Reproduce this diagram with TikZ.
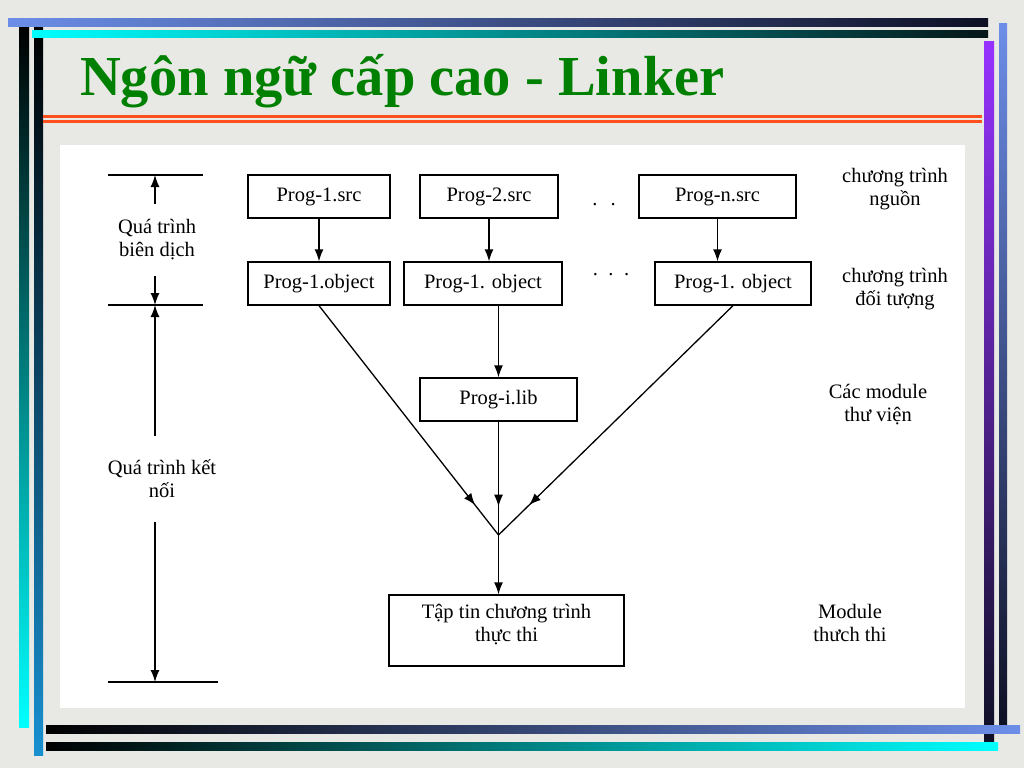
\documentclass[tikz,border=0pt]{standalone}
\usepackage{fontspec}
\setmainfont{Liberation Serif}
\usetikzlibrary{arrows.meta, decorations.markings}
\definecolor{slidebg}{RGB}{232,232,228}
\definecolor{titlegreen}{RGB}{0,128,0}
\definecolor{barblue}{RGB}{108,142,232}
\definecolor{barnavy}{RGB}{14,16,36}
\definecolor{barteal}{RGB}{6,22,24}
\definecolor{barsky}{RGB}{24,144,208}
\definecolor{barpurple}{RGB}{150,50,255}
\definecolor{rulered}{RGB}{255,80,30}

\begin{document}
\begin{tikzpicture}[x=1pt, y=-1pt,
    every node/.style={font=\fontsize{20.5}{23}\selectfont},
    box/.style={draw, line width=1.3pt, minimum height=43pt, inner sep=0pt},
    note/.style={align=center, inner sep=0pt},
    link/.style={line width=1.3pt},
    tip/.style={-{Latex[length=12pt,width=9pt]}},
    midarrow/.style={postaction={decorate},
      decoration={markings, mark=at position #1 with {\arrow{Latex[length=12pt,width=9pt]}}}},
  ]
  % slide and white panel
  \fill[slidebg] (0,0) rectangle (1024,768);
  \fill[white] (60,145) rectangle (965,708);

  % frame bars
  \shade[top color=black, bottom color=cyan] (19,27) rectangle (29,727);
  \shade[top color=black, bottom color=barsky] (34,28) rectangle (43,755);
  \shade[top color=barpurple, bottom color=barnavy] (984,42) rectangle (994,742);
  \shade[top color=barblue, bottom color=barnavy] (999,24) rectangle (1007,725);
  \shade[left color=barblue, right color=barnavy] (8,19) rectangle (988,27);
  \shade[left color=cyan, right color=barteal] (32,31) rectangle (988,38);
  \shade[left color=black, right color=barblue] (46,725) rectangle (1020,733);
  \shade[left color=black, right color=cyan] (46,742) rectangle (998,750);

  % title
  \node[anchor=base west, inner sep=0pt, text=titlegreen,
        font=\fontsize{56.5}{60}\selectfont\bfseries] (title) at (80,95) {Ngôn ngữ cấp cao - Linker};
  \draw[rulered, line width=3pt] (43,116.5) -- (982,116.5);
  \draw[rulered, line width=3pt] (43,121.5) -- (982,121.5);

  % program files
  \node[box, minimum width=142pt] (s1) at (319,196.5) {Prog-1.src};
  \node[box, minimum width=138pt] (s2) at (489,196.5) {Prog-2.src};
  \node[box, minimum width=157pt] (sn) at (717.5,196.5) {Prog-n.src};
  \node[box, minimum width=142pt] (o1) at (319,283.5) {Prog-1.object};
  \node[box, minimum width=158pt] (o2) at (483,283.5) {Prog-1. object};
  \node[box, minimum width=156pt] (on) at (733,283.5) {Prog-1. object};
  \node[box, minimum width=157pt] (lib) at (498.5,399.5) {Prog-i.lib};
  \node[box, minimum width=235pt, minimum height=71pt, text depth=16pt, align=center] (exe) at (506.5,630.5) {Tập tin chương trình\\thực thi};
  \node (d1) at (604,205) {.\hspace{13pt}.};
  \node (d2) at (611,275) {.\hspace{10.5pt}.\hspace{10.5pt}.};

  % right labels
  \node[note] (srclbl) at (895,189) {chương trình\\nguồn};
  \node[note] (objlbl) at (895,289) {chương trình\\đối tượng};
  \node[note] (liblbl) at (878,405) {Các module\\thư viện};
  \node[note] (exelbl) at (850,623) {Module\\thưch thi};

  % left scale
  \coordinate (lv1) at (155,175);
  \coordinate (lv2) at (155,305);
  \coordinate (lv3) at (155,682);
  \draw[link] (108,175) -- (203,175);
  \draw[link] (108,305) -- (203,305);
  \draw[link] (108,682) -- (218,682);
  \node[note, minimum height=72pt] (bd) at (157,240) {Quá trình\\biên dịch};
  \node[note, minimum height=86pt] (kn) at (162,479) {Quá trình kết\\nối};
  \draw[link, tip] (bd.north -| lv1) -- (lv1);
  \draw[link, tip] (bd.south -| lv1) -- (lv2);
  \draw[link, tip] (kn.north -| lv1) -- (lv2);
  \draw[link, tip] (kn.south -| lv1) -- (lv3);

  % connectors
  \draw[link, tip] (s1.south) -- (s1.south |- o1.north);
  \draw[link, tip] (s2.south) -- (s2.south |- o2.north);
  \draw[link, tip] (sn.south) -- (sn.south |- on.north);
  \draw[link, tip] (lib.north |- o2.south) -- (lib.north);
  \coordinate (join) at (498.5,535);
  \draw[link, midarrow=0.87] (o1.south) -- (join);
  \draw[link, midarrow=0.87] (on.south) -- (join);
  \draw[link, midarrow=0.75] (lib.south) -- (join);
  \draw[link, tip] (join) -- (join |- exe.north);
\end{tikzpicture}
\end{document}
